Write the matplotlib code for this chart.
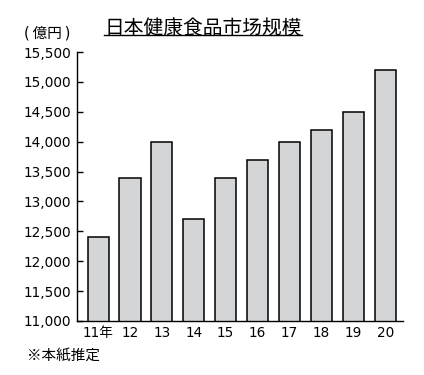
import matplotlib
matplotlib.use("Agg")
import matplotlib.pyplot as plt
from matplotlib.lines import Line2D

plt.rcParams['font.family'] = ['Noto Sans CJK JP', 'DejaVu Sans']

# données
annees = ['11年', '12', '13', '14', '15', '16', '17', '18', '19', '20']
marche = [12400, 13400, 14000, 12700, 13400, 13700, 14000, 14200, 14500, 15200]
graduations = [11000, 11500, 12000, 12500, 13000, 13500, 14000, 14500, 15000, 15500]

chiffres = ['DejaVu Sans', 'Noto Sans CJK JP']

fig = plt.figure(figsize=(4.24, 3.75), dpi=100)
ax = fig.add_axes([0.181, 0.144, 0.769, 0.717])

x = range(len(annees))
ax.bar(x, marche, width=0.66, color='#d4d5d7', edgecolor='black', linewidth=1.1)

ax.set_ylim(11000, 15500)
ax.set_xlim(-0.67, 9.55)
ax.set_yticks(graduations)
ax.set_yticklabels([f"{v:,}" for v in graduations], fontsize=9.8, family=chiffres)
ax.set_xticks(list(x))
ax.set_xticklabels(annees, fontsize=9.8, family=chiffres)
ax.tick_params(axis='x', length=0, pad=3.5)
ax.tick_params(axis='y', direction='in', length=4, width=1, pad=4)
ax.spines['top'].set_visible(False)
ax.spines['right'].set_visible(False)
ax.spines['left'].set_linewidth(1)
ax.spines['bottom'].set_linewidth(1)

# titre souligné
titre = fig.text(0.479, 0.924, '日本健康食品市场规模', ha='center', va='center', fontsize=14.2)
fig.text(0.056, 0.912, '(\u2009億円\u2009)', ha='left', va='center', fontsize=10.5,
         family=['DejaVu Sans', 'Noto Sans CJK JP'])
fig.text(0.064, 0.052, '※本紙推定', ha='left', va='center', fontsize=10.5)

fig.canvas.draw()
bb = titre.get_window_extent().transformed(fig.transFigure.inverted())
fig.add_artist(Line2D([bb.x0, bb.x1], [bb.y0 + 0.011, bb.y0 + 0.011], color='black', linewidth=1,
                      transform=fig.transFigure))

fig.savefig('out.png', dpi=100)
